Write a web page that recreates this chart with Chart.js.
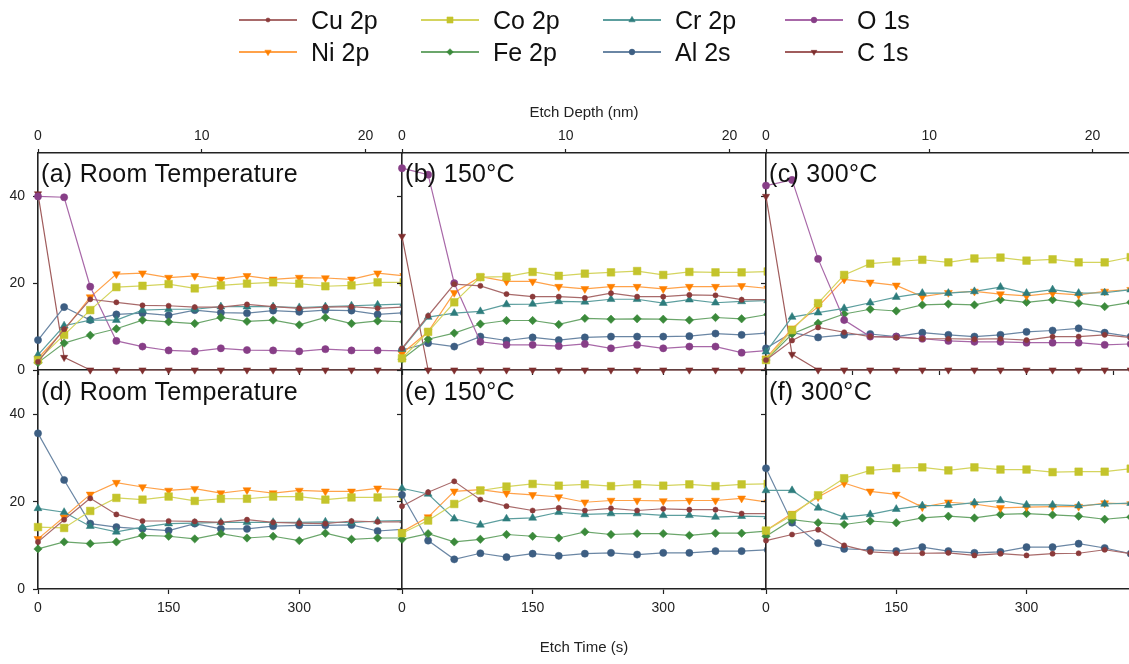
<!DOCTYPE html>
<html>
<head>
<meta charset="utf-8">
<script src="https://cdn.jsdelivr.net/npm/chart.js@4"></script>
<style>
html, body { margin: 0; padding: 0; background: #fff; }
#wrap { position: relative; width: 1129px; height: 664px; overflow: hidden; font-family: "Liberation Sans", Arial, sans-serif; }
#wrap canvas.panel { position: absolute; left: 0; top: 0; }
.lbl { position: absolute; font-size: 25px; line-height: 24px; letter-spacing: 0.3px; color: #111; white-space: nowrap; }
.axt { position: absolute; font-size: 15px; line-height: 15px; color: #222; white-space: nowrap; transform: translateX(-50%); }
.legtxt { position: absolute; font-size: 25px; line-height: 24px; color: #111; white-space: nowrap; }
.legkey { position: absolute; }
</style>
</head>
<body>
<div id="wrap"></div>
<script>
// etch time (s) of each measurement, the last one falls just past the plotted range
var etchTime = [0, 30, 60, 90, 120, 150, 180, 210, 240, 270, 300, 330, 360, 390, 420];
var timeMax = 418;
var depthMax = 22.23;

var yTicks = [0, 20, 40];
var timeTicks = [0, 150, 300];
var timeTicksTopC = [0, 100, 200, 300, 400];
var depthTicks = [0, 10, 20];

var seriesNames = ['Cu 2p', 'Co 2p', 'Cr 2p', 'O 1s', 'Ni 2p', 'Fe 2p', 'Al 2s', 'C 1s'];
var panelTitles = ['(a) Room Temperature', '(b) 150\u00B0C', '(c) 300\u00B0C',
                   '(d) Room Temperature', '(e) 150\u00B0C', '(f) 300\u00B0C'];

// (a) room temperature, top
var cuA = [1.9, 9.4, 16.3, 15.6, 14.9, 14.8, 14.5, 14.5, 15.1, 14.6, 14.2, 14.5, 14.6, 14.2, 14.5];
var coA = [2.3, 8.1, 13.8, 19.1, 19.4, 19.8, 18.8, 19.5, 19.9, 20.2, 19.9, 19.3, 19.5, 20.2, 20.2];
var crA = [3.5, 10.2, 11.5, 11.5, 13.8, 14.0, 14.0, 14.6, 14.6, 14.6, 14.4, 14.6, 14.8, 15.0, 15.2];
var oA  = [40.0, 39.8, 19.2, 6.7, 5.4, 4.5, 4.3, 5.0, 4.6, 4.5, 4.3, 4.8, 4.5, 4.5, 4.4];
var niA = [2.7, 9.2, 16.8, 22.1, 22.3, 21.3, 21.7, 20.9, 21.7, 20.9, 21.3, 21.2, 20.9, 22.3, 21.7];
var feA = [1.7, 6.2, 8.0, 9.5, 11.5, 11.1, 10.7, 12.1, 11.2, 11.5, 10.4, 12.1, 10.7, 11.3, 11.1];
var alA = [6.9, 14.5, 11.5, 12.8, 13.1, 12.6, 13.8, 13.2, 13.1, 13.7, 13.4, 13.8, 13.7, 12.8, 13.2];
var cA  = [40.6, 2.9, 0, 0, 0, 0, 0, 0, 0, 0, 0, 0, 0, 0, 0];

// (b) 150 C, top
var cuB = [5.0, 12.5, 19.8, 19.4, 17.5, 16.9, 16.9, 16.6, 17.7, 16.9, 16.9, 17.3, 17.2, 16.2, 16.2];
var coB = [2.7, 8.8, 15.6, 21.4, 21.5, 22.6, 21.7, 22.2, 22.5, 22.8, 21.9, 22.6, 22.5, 22.5, 22.7];
var crB = [4.8, 12.2, 13.1, 13.5, 15.1, 15.2, 15.8, 15.7, 16.3, 16.3, 15.4, 16.2, 15.5, 15.8, 16.0];
var oB  = [46.5, 45.0, 20.0, 6.5, 5.8, 5.8, 5.5, 6.0, 5.0, 5.8, 5.0, 5.4, 5.4, 4.0, 4.5];
var niB = [3.8, 8.8, 17.8, 21.5, 20.4, 20.4, 19.2, 18.7, 19.2, 19.2, 18.7, 19.2, 19.2, 19.4, 18.8];
var feB = [2.5, 7.1, 8.5, 10.6, 11.4, 11.4, 10.5, 11.9, 11.7, 11.8, 11.7, 11.5, 12.1, 11.8, 12.8];
var alB = [4.6, 6.2, 5.4, 7.7, 6.8, 7.5, 6.9, 7.5, 7.7, 7.7, 7.7, 7.8, 8.4, 8.1, 8.5];
var cB  = [30.8, 0, 0, 0, 0, 0, 0, 0, 0, 0, 0, 0, 0, 0, 0];

// (c) 300 C, top
var cuC = [2.3, 6.8, 9.8, 8.7, 7.7, 7.5, 7.2, 7.2, 7.1, 7.2, 6.9, 7.7, 7.7, 8.1, 7.5];
var coC = [2.3, 9.2, 15.4, 21.9, 24.5, 25.0, 25.4, 24.8, 25.7, 25.9, 25.2, 25.5, 24.8, 24.8, 26.0];
var crC = [4.2, 12.2, 13.2, 14.2, 15.5, 16.8, 17.7, 17.7, 18.1, 19.1, 17.7, 18.5, 17.7, 17.8, 18.5];
var oC  = [42.5, 43.8, 25.6, 11.5, 7.7, 7.7, 7.2, 6.7, 6.5, 6.5, 6.3, 6.3, 6.3, 5.8, 6.0];
var niC = [2.7, 9.6, 14.6, 20.9, 20.2, 19.5, 16.9, 17.8, 18.1, 17.5, 17.1, 17.7, 17.3, 18.1, 18.5];
var feC = [2.3, 8.3, 10.8, 12.9, 14.0, 13.6, 15.0, 15.2, 15.0, 16.2, 15.6, 16.2, 15.4, 14.6, 15.6];
var alC = [5.0, 8.6, 7.5, 8.1, 8.3, 7.7, 8.6, 8.1, 7.7, 8.1, 8.8, 9.1, 9.6, 8.6, 7.7];
var cC  = [40.0, 3.6, 0, 0, 0, 0, 0, 0, 0, 0, 0, 0, 0, 0, 0];

// (d) room temperature, bottom
var cuD = [10.8, 15.9, 20.8, 17.1, 15.6, 15.6, 15.5, 15.3, 15.9, 15.3, 15.1, 15.0, 15.6, 15.4, 15.4];
var coD = [14.2, 14.0, 17.9, 20.9, 20.5, 21.2, 20.2, 20.7, 20.7, 21.2, 21.2, 20.5, 21.0, 21.0, 21.2];
var crD = [18.5, 17.6, 14.4, 13.1, 14.2, 15.0, 15.1, 15.3, 15.3, 15.3, 15.3, 15.4, 15.2, 15.6, 15.7];
var niD = [11.5, 16.5, 21.7, 24.4, 23.4, 22.6, 23.0, 22.0, 22.7, 22.0, 22.6, 22.4, 22.4, 23.1, 22.7];
var feD = [9.2, 10.8, 10.4, 10.8, 12.3, 12.1, 11.5, 12.7, 11.7, 12.1, 11.1, 12.8, 11.4, 11.7, 11.7];
var alD = [35.7, 25.0, 15.0, 14.2, 13.8, 13.4, 15.0, 13.8, 13.8, 14.4, 14.6, 14.6, 14.7, 13.3, 13.7];

// (e) 150 C, bottom
var cuE = [19.0, 22.2, 24.7, 20.5, 19.0, 18.0, 18.6, 18.0, 18.5, 18.0, 18.4, 18.2, 18.2, 17.3, 17.3];
var coE = [12.8, 15.7, 19.5, 22.6, 23.5, 24.1, 23.7, 24.0, 23.6, 24.0, 23.7, 24.0, 23.6, 24.0, 24.1];
var crE = [23.1, 21.8, 16.1, 14.7, 16.1, 16.3, 17.6, 17.1, 17.3, 17.3, 16.9, 16.9, 16.5, 16.7, 16.6];
var niE = [13.1, 16.5, 22.4, 22.8, 22.0, 21.6, 21.1, 19.9, 20.3, 20.3, 20.2, 20.3, 20.3, 20.8, 19.9];
var feE = [11.4, 12.7, 10.8, 11.4, 12.5, 12.1, 11.7, 13.1, 12.5, 12.7, 12.7, 12.3, 12.8, 12.8, 13.3];
var alE = [21.6, 11.1, 6.8, 8.2, 7.3, 8.1, 7.6, 8.1, 8.3, 7.9, 8.3, 8.3, 8.7, 8.7, 9.0];

// (f) 300 C, bottom
var cuF = [11.1, 12.5, 13.6, 10.0, 8.5, 8.2, 8.2, 8.3, 7.7, 8.1, 7.7, 8.1, 8.2, 9.0, 8.1];
var coF = [13.4, 16.9, 21.5, 25.4, 27.2, 27.7, 27.9, 27.2, 27.9, 27.4, 27.4, 26.8, 26.9, 26.9, 27.6];
var crF = [22.6, 22.6, 18.6, 16.5, 17.1, 18.3, 19.1, 19.2, 19.8, 20.3, 19.3, 19.3, 19.1, 19.5, 19.7];
var niF = [13.4, 17.3, 21.1, 24.3, 22.4, 21.7, 18.8, 19.9, 19.5, 18.6, 18.8, 18.9, 18.9, 19.7, 19.5];
var feF = [12.1, 15.9, 15.2, 14.8, 15.6, 15.2, 16.3, 16.7, 16.3, 17.1, 17.3, 17.0, 16.7, 16.0, 16.5];
var alF = [27.7, 15.2, 10.5, 9.2, 9.0, 8.7, 9.6, 8.7, 8.3, 8.5, 9.6, 9.6, 10.4, 9.4, 8.1];

var styles = {
    'Cu 2p': { marker: '#8B3A3A', line: '#A86A6A', shape: 'circle',   r: 2.6, rot: 0 },
    'Co 2p': { marker: '#C4C42C', line: '#D4D45E', shape: 'rect',     r: 5.4, rot: 0 },
    'Cr 2p': { marker: '#2E7D7D', line: '#5C9E9E', shape: 'triangle', r: 4.6, rot: 0 },
    'O 1s':  { marker: '#873E87', line: '#A868A8', shape: 'circle',   r: 3.6, rot: 0 },
    'Ni 2p': { marker: '#FF8000', line: '#FFA24A', shape: 'triangle', r: 4.6, rot: 180 },
    'Fe 2p': { marker: '#3B8A3B', line: '#6BA66B', shape: 'rectRot',  r: 4.2, rot: 0 },
    'Al 2s': { marker: '#3D5E82', line: '#6A86A4', shape: 'circle',   r: 3.6, rot: 0 },
    'C 1s':  { marker: '#7E2E2E', line: '#A05C5C', shape: 'triangle', r: 4.2, rot: 180 }
};

var panels = [
    { title: panelTitles[0], x0: 38,  x1: 402,  y0: 153, y1: 370, top: true,  yLabels: true,
      series: { 'Cu 2p': cuA, 'Co 2p': coA, 'Cr 2p': crA, 'O 1s': oA, 'Ni 2p': niA, 'Fe 2p': feA, 'Al 2s': alA, 'C 1s': cA } },
    { title: panelTitles[1], x0: 402, x1: 766,  y0: 153, y1: 370, top: true,  yLabels: false,
      series: { 'Cu 2p': cuB, 'Co 2p': coB, 'Cr 2p': crB, 'O 1s': oB, 'Ni 2p': niB, 'Fe 2p': feB, 'Al 2s': alB, 'C 1s': cB } },
    { title: panelTitles[2], x0: 766, x1: 1129, y0: 153, y1: 370, top: true,  yLabels: false,
      series: { 'Cu 2p': cuC, 'Co 2p': coC, 'Cr 2p': crC, 'O 1s': oC, 'Ni 2p': niC, 'Fe 2p': feC, 'Al 2s': alC, 'C 1s': cC } },
    { title: panelTitles[3], x0: 38,  x1: 402,  y0: 371, y1: 589, top: false, yLabels: true,
      series: { 'Cu 2p': cuD, 'Co 2p': coD, 'Cr 2p': crD, 'Ni 2p': niD, 'Fe 2p': feD, 'Al 2s': alD } },
    { title: panelTitles[4], x0: 402, x1: 766,  y0: 371, y1: 589, top: false, yLabels: false,
      series: { 'Cu 2p': cuE, 'Co 2p': coE, 'Cr 2p': crE, 'Ni 2p': niE, 'Fe 2p': feE, 'Al 2s': alE } },
    { title: panelTitles[5], x0: 766, x1: 1129, y0: 371, y1: 589, top: false, yLabels: false,
      series: { 'Cu 2p': cuF, 'Co 2p': coF, 'Cr 2p': crF, 'Ni 2p': niF, 'Fe 2p': feF, 'Al 2s': alF } }
];

var W = 1129, H = 664;
var axisColor = '#222';
var fontFam = '"Liberation Sans", Arial, sans-serif';
var wrap = document.getElementById('wrap');

function fixTicks(list) {
    return function(scale) { scale.ticks = list.map(function(v) { return { value: v }; }); };
}

function buildPanel(p, idx) {
    var cv = document.createElement('canvas');
    cv.className = 'panel';
    cv.width = W; cv.height = H;
    wrap.appendChild(cv);

    var datasets = [];
    seriesNames.forEach(function(name) {
        var vals = p.series[name];
        if (!vals) return;
        var st = styles[name];
        datasets.push({
            label: name,
            data: etchTime.map(function(t, i) { return { x: t, y: vals[i] }; }),
            borderColor: st.line,
            borderWidth: 1.2,
            pointStyle: st.shape,
            pointRotation: st.rot,
            pointRadius: st.r,
            pointBackgroundColor: st.marker,
            pointBorderColor: st.marker,
            pointBorderWidth: 0.5,
            tension: 0,
            clip: { left: 10, top: 10, right: 0, bottom: 10 }
        });
    });

    var isCol3 = (idx % 3 === 2);
    var scales = {
        x: {
            type: 'linear', position: 'bottom', min: 0, max: timeMax,
            afterBuildTicks: fixTicks(p.top ? (isCol3 ? timeTicksTopC : timeTicks) : timeTicks),
            afterFit: function(s) { s.height = 30; },
            ticks: { display: !p.top, color: axisColor, padding: 6, maxRotation: 0, autoSkip: false,
                     font: { size: 14, family: fontFam } },
            grid: { drawOnChartArea: false, drawTicks: true, tickLength: 5, tickColor: axisColor, tickWidth: 1.2 },
            border: { display: true, color: axisColor, width: 1.6 }
        },
        y: {
            type: 'linear', position: 'left', min: 0, max: 50,
            afterBuildTicks: fixTicks(yTicks),
            afterFit: function(s) { s.width = 30; },
            ticks: { display: p.yLabels, color: axisColor, padding: 8,
                     font: { size: 14, family: fontFam } },
            grid: { drawOnChartArea: false, drawTicks: true, tickLength: 5, tickColor: axisColor, tickWidth: 1.2 },
            border: { display: true, color: axisColor, width: 1.6 }
        }
    };
    if (p.top) {
        scales.xDepth = {
            type: 'linear', position: 'top', axis: 'x', min: 0, max: depthMax,
            afterBuildTicks: fixTicks(depthTicks),
            afterFit: function(s) { s.height = 30; },
            ticks: { display: true, color: axisColor, padding: 4, maxRotation: 0, autoSkip: false,
                     font: { size: 14, family: fontFam } },
            grid: { drawOnChartArea: false, drawTicks: true, tickLength: 4, tickColor: axisColor, tickWidth: 1.2 },
            border: { display: true, color: axisColor, width: 1.6 }
        };
    }

    new Chart(cv, {
        type: 'line',
        data: { datasets: datasets },
        options: {
            responsive: false,
            animation: false,
            events: [],
            layout: {
                autoPadding: false,
                padding: {
                    left: p.x0 - 30,
                    right: W - p.x1,
                    top: p.top ? p.y0 - 30 : p.y0,
                    bottom: H - p.y1 - 30
                }
            },
            scales: scales,
            plugins: { legend: { display: false }, tooltip: { enabled: false } }
        }
    });

    var lbl = document.createElement('div');
    lbl.className = 'lbl';
    lbl.textContent = p.title;
    lbl.style.left = (p.x0 + 3) + 'px';
    lbl.style.top = (p.y0 + 8) + 'px';
    wrap.appendChild(lbl);
}

panels.forEach(buildPanel);

// axis titles
function addText(cls, txt, x, y) {
    var d = document.createElement('div');
    d.className = cls;
    d.textContent = txt;
    d.style.left = x + 'px';
    d.style.top = y + 'px';
    wrap.appendChild(d);
    return d;
}
addText('axt', 'Etch Depth (nm)', 584, 104);
addText('axt', 'Etch Time (s)', 584, 639);

// legend, 4 columns x 2 rows
var legCols = [239, 421, 603, 785];
var legRows = [20, 52];
seriesNames.forEach(function(name, i) {
    var col = i % 4, row = Math.floor(i / 4);
    var st = styles[name];
    var key = document.createElement('canvas');
    key.className = 'legkey';
    key.width = 58; key.height = 16;
    key.style.left = legCols[col] + 'px';
    key.style.top = (legRows[row] - 8) + 'px';
    wrap.appendChild(key);
    var ctx = key.getContext('2d');
    ctx.strokeStyle = st.line;
    ctx.lineWidth = 2;
    ctx.beginPath(); ctx.moveTo(0, 8); ctx.lineTo(58, 8); ctx.stroke();
    ctx.fillStyle = st.marker;
    ctx.strokeStyle = st.marker;
    ctx.lineWidth = 0.5;
    if (Chart.helpers && Chart.helpers.drawPoint) {
        Chart.helpers.drawPoint(ctx, { pointStyle: st.shape, rotation: st.rot, radius: st.r * 0.8, borderWidth: 0.5 }, 29, 8);
    }
    addText('legtxt', name, legCols[col] + 72, legRows[row] - 12);
});
</script>
</body>
</html>
